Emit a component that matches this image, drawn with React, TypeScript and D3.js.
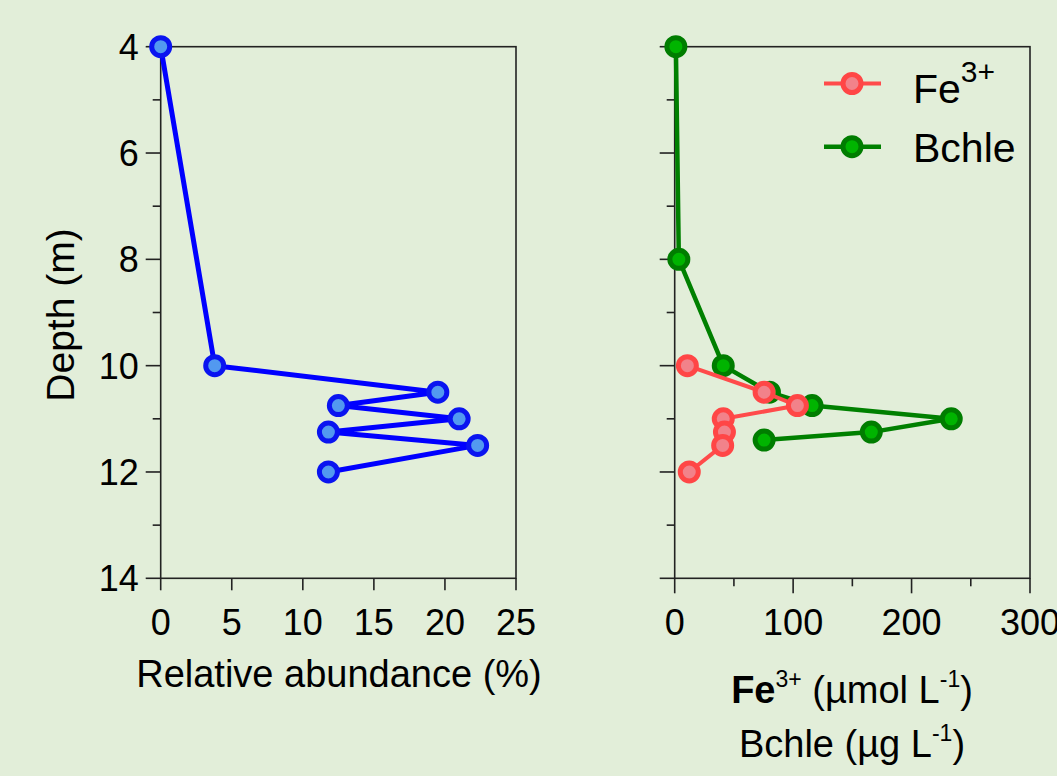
import React from "react";
import * as d3 from "d3";

// ---- data ----
const abundanceDepth = [4, 10, 10.5, 10.75, 11, 11.25, 11.5, 12];
const abundanceValue = [0, 3.8, 19.5, 12.5, 21, 11.8, 22.3, 11.8];

const feDepth = [10, 10.5, 10.75, 11, 11.25, 11.5, 12];
const feValue = [10.7, 75.5, 103.6, 41, 42, 40.5, 12.3];

const bchleDepth = [4, 8, 10, 10.5, 10.75, 11, 11.25, 11.4];
const bchleValue = [1, 3.5, 41, 80, 116, 233.5, 166, 75.5];

const depthTicks = [4, 6, 8, 10, 12, 14];
const depthMinor = [5, 7, 9, 11, 13];
const abundanceTicks = [0, 5, 10, 15, 20, 25];
const concTicks = [0, 100, 200, 300];
const concMinor = [50, 150, 250];

const W = 1057;
const H = 776;
const BG = "#e2eed9";
const FONT = "'Liberation Sans', Arial, sans-serif";
const AXIS = "#222";

type P = { v: number; d: number };
const zip = (vals: number[], depths: number[]): P[] =>
  vals.map((v, i) => ({ v, d: depths[i] }));

export default function App() {
  const top = 46.7;
  const bottom = 578.3;
  const y = d3.scaleLinear().domain([4, 14]).range([top, bottom]);
  const xL = d3.scaleLinear().domain([0, 25]).range([160.7, 516]);
  const xR = d3.scaleLinear().domain([0, 300]).range([674.7, 1030]);

  const lineL = d3.line<P>().x((p) => xL(p.v)).y((p) => y(p.d));
  const lineR = d3.line<P>().x((p) => xR(p.v)).y((p) => y(p.d));

  const blue = zip(abundanceValue, abundanceDepth);
  const fe = zip(feValue, feDepth);
  const bch = zip(bchleValue, bchleDepth);

  const styles = {
    blue: { line: "#0000ff", fill: "#5299f0", stroke: "#0a14f0" },
    red: { line: "#ff4b4b", fill: "#f2828a", stroke: "#ff4646" },
    green: { line: "#008000", fill: "#00b400", stroke: "#007d00" },
  };
  const R = 9;
  const SW = 5;

  const frame = (x0: number, x1: number) => (
    <rect
      x={x0}
      y={top}
      width={x1 - x0}
      height={bottom - top}
      fill="none"
      stroke={AXIS}
      strokeWidth={1.6}
    />
  );

  const yAxis = (x0: number, labels: boolean) => (
    <g>
      {depthTicks.map((t) => (
        <g key={"M" + t}>
          <line x1={x0 - 15} x2={x0} y1={y(t)} y2={y(t)} stroke={AXIS} strokeWidth={1.6} />
          {labels && (
            <text
              x={x0 - 22}
              y={y(t)}
              dy="0.36em"
              textAnchor="end"
              fontSize={36}
              fontFamily={FONT}
              fill="#000"
            >
              {t}
            </text>
          )}
        </g>
      ))}
      {depthMinor.map((t) => (
        <line key={"m" + t} x1={x0 - 8} x2={x0} y1={y(t)} y2={y(t)} stroke={AXIS} strokeWidth={1.6} />
      ))}
    </g>
  );

  const markers = (pts: P[], sx: (v: number) => number, s: { fill: string; stroke: string }) =>
    pts.map((p, i) => (
      <circle key={i} cx={sx(p.v)} cy={y(p.d)} r={R} fill={s.fill} stroke={s.stroke} strokeWidth={SW} />
    ));

  return (
    <svg
      width={W}
      height={H}
      style={{ position: "absolute", left: 0, top: 0, background: BG }}
    >
      <rect x={0} y={0} width={W} height={H} fill={BG} />

      {/* left panel */}
      {frame(xL(0), xL(25))}
      {yAxis(xL(0), true)}
      {abundanceTicks.map((t) => (
        <g key={"xl" + t}>
          <line x1={xL(t)} x2={xL(t)} y1={bottom} y2={bottom + 12} stroke={AXIS} strokeWidth={1.6} />
          <text x={xL(t)} y={635} textAnchor="middle" fontSize={36} fontFamily={FONT} fill="#000">
            {t}
          </text>
        </g>
      ))}
      <text x={339} y={687} textAnchor="middle" fontSize={38} fontFamily={FONT} fill="#000">
        Relative abundance (%)
      </text>
      <text
        transform={`translate(74,315) rotate(-90)`}
        textAnchor="middle"
        fontSize={39}
        fontFamily={FONT}
        fill="#000"
      >
        Depth (m)
      </text>

      <path d={lineL(blue) || ""} fill="none" stroke={styles.blue.line} strokeWidth={5} strokeLinejoin="round" />
      {markers(blue, xL, styles.blue)}

      {/* right panel */}
      {frame(xR(0), xR(300))}
      {yAxis(xR(0), false)}
      {concTicks.map((t) => (
        <g key={"xr" + t}>
          <line x1={xR(t)} x2={xR(t)} y1={bottom} y2={bottom + 15} stroke={AXIS} strokeWidth={1.6} />
          <text x={xR(t)} y={635} textAnchor="middle" fontSize={36} fontFamily={FONT} fill="#000">
            {t}
          </text>
        </g>
      ))}
      {concMinor.map((t) => (
        <line key={"xm" + t} x1={xR(t)} x2={xR(t)} y1={bottom} y2={bottom + 8} stroke={AXIS} strokeWidth={1.6} />
      ))}
      <text x={852} y={703} textAnchor="middle" fontSize={38} fontFamily={FONT} fill="#000">
        <tspan fontWeight="bold">Fe</tspan>
        <tspan fontSize={23} dy={-16}>3+</tspan>
        <tspan dy={16}> (µmol L</tspan>
        <tspan fontSize={23} dy={-16}>-1</tspan>
        <tspan dy={16}>)</tspan>
      </text>
      <text x={852} y={757} textAnchor="middle" fontSize={38} fontFamily={FONT} fill="#000">
        <tspan>Bchle (µg L</tspan>
        <tspan fontSize={23} dy={-16}>-1</tspan>
        <tspan dy={16}>)</tspan>
      </text>

      <path d={lineR(bch) || ""} fill="none" stroke={styles.green.line} strokeWidth={4.5} strokeLinejoin="round" />
      {markers(bch, xR, styles.green)}
      <path d={lineR(fe) || ""} fill="none" stroke={styles.red.line} strokeWidth={4} strokeLinejoin="round" />
      {markers(fe, xR, styles.red)}

      {/* legend */}
      <g>
        <line x1={824} x2={881} y1={83.5} y2={83.5} stroke={styles.red.line} strokeWidth={4} />
        <circle cx={852} cy={83.5} r={R} fill={styles.red.fill} stroke={styles.red.stroke} strokeWidth={SW} />
        <text x={913} y={103} fontSize={41} fontFamily={FONT} fill="#000">
          Fe
          <tspan fontSize={30} dy={-21}>3+</tspan>
        </text>
        <line x1={824} x2={881} y1={146.7} y2={146.7} stroke={styles.green.line} strokeWidth={4.5} />
        <circle cx={852} cy={146.7} r={R} fill={styles.green.fill} stroke={styles.green.stroke} strokeWidth={SW} />
        <text x={913} y={161.5} fontSize={41} fontFamily={FONT} fill="#000">
          Bchle
        </text>
      </g>
    </svg>
  );
}
